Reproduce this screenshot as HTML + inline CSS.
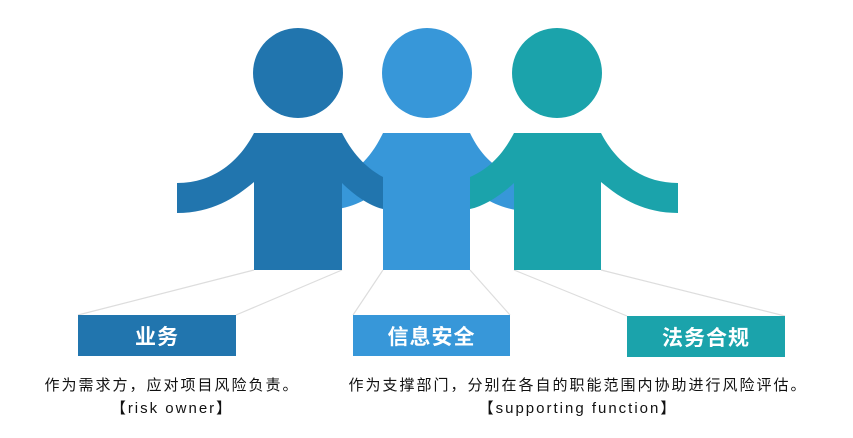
<!DOCTYPE html>
<html><head><meta charset="utf-8"><style>
body{margin:0;background:#fff;}
.wrap{position:relative;width:853px;height:438px;overflow:hidden;}
.box{position:absolute;height:41px;color:#fff;font:bold 21px "Liberation Sans","Noto Sans CJK SC",sans-serif;display:flex;align-items:center;justify-content:center;letter-spacing:1px;}
.t{position:absolute;font:15px "Liberation Sans","Noto Sans CJK SC",sans-serif;color:#111;text-align:center;letter-spacing:2px;white-space:nowrap;}
</style></head><body><div class="wrap">
<svg width="853" height="438" style="position:absolute;left:0;top:0">
<g stroke="#ddd" stroke-width="1.2" fill="none">
<line x1="254" y1="270" x2="78" y2="315"/><line x1="342" y1="270" x2="236" y2="315"/>
<line x1="383" y1="270" x2="353" y2="315"/><line x1="470" y1="270" x2="510" y2="315"/>
<line x1="514" y1="270" x2="627" y2="316"/><line x1="601" y1="270" x2="785" y2="316"/>
</g>
<g fill="#3797d9">
<path d="M383,133 C370,160 355,172 338,178 L338,209 C360,205 375,195 383,185 Z"/>
<path d="M470,133 C483,160 500,172 523,178 L523,211 C495,208 478,195 470,185 Z"/>
</g>
<g fill="#2175ae">
<circle cx="298" cy="73" r="45"/>
<rect x="254" y="133" width="88" height="137"/>
<path d="M254,133 C240,160 215,183 177,183 L177,213 C212,213 235,198 254,182 Z"/>
<path d="M342,133 C355,158 370,170 383,177 L383,209 C370,206 355,196 342,183 Z"/>
</g>
<g fill="#1ba3ab">
<circle cx="557" cy="73" r="45"/>
<rect x="514" y="133" width="87" height="137"/>
<path d="M514,133 C501,158 486,170 470,177 L470,209 C484,206 500,196 514,183 Z"/>
<path d="M601,133 C615,160 640,183 678,183 L678,213 C643,213 620,198 601,182 Z"/>
</g>
<g fill="#3797d9">
<circle cx="427" cy="73" r="45"/>
<rect x="383" y="133" width="87" height="137"/>
</g>
</svg>
<div class="box" style="left:78px;top:315px;width:158px;background:#2175ae">业务</div>
<div class="box" style="left:353px;top:315px;width:157px;background:#3797d9">信息安全</div>
<div class="box" style="left:627px;top:316px;width:158px;background:#1ba3ab">法务合规</div>
<div class="t" style="left:22px;width:300px;top:374px">作为需求方，应对项目风险负责。</div>
<div class="t" style="left:22px;width:300px;top:397px">【risk owner】</div>
<div class="t" style="left:328px;width:500px;top:374px">作为支撑部门，分别在各自的职能范围内协助进行风险评估。</div>
<div class="t" style="left:328px;width:500px;top:397px">【supporting function】</div>
</div></body></html>
